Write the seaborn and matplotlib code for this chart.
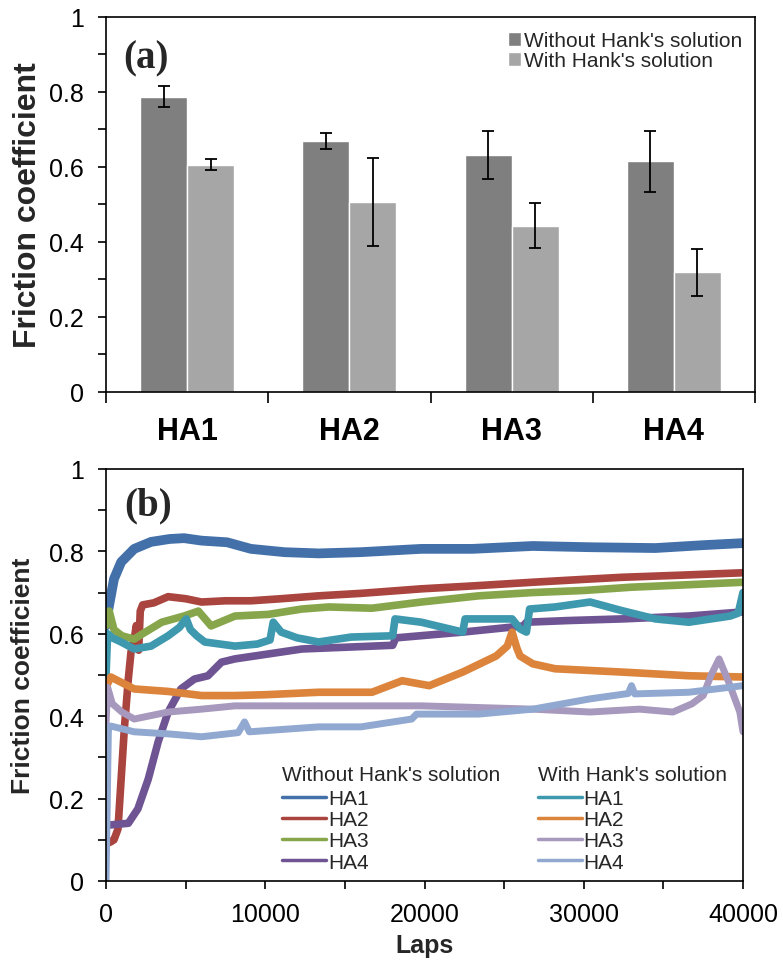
#!/usr/bin/env python3
"""Friction coefficient: (a) bar chart with error bars, (b) friction vs laps curves"""
import matplotlib; matplotlib.use("Agg")
import matplotlib.pyplot as plt; import numpy as np
import pandas as pd; import seaborn as sns
from matplotlib.ticker import MultipleLocator, FuncFormatter
from matplotlib.lines import Line2D

# ---- data (a) ----
samples = ["HA1", "HA2", "HA3", "HA4"]
conds = ["Without Hank's solution", "With Hank's solution"]
mu_without = [0.787, 0.670, 0.632, 0.615]
err_without = [0.028, 0.021, 0.065, 0.081]
mu_with = [0.606, 0.507, 0.443, 0.319]
err_with = [0.015, 0.117, 0.060, 0.062]

# ---- data (b) ----
laps_wo_ha1 = [0, 150, 500, 950, 1770, 2830, 4000, 4900, 6000, 7600, 9100, 11200, 13350, 16000,
               19800, 23000, 26800, 30400, 34500, 37500, 40000]
mu_wo_ha1 = [0.62, 0.66, 0.733, 0.774, 0.806, 0.823, 0.83, 0.832, 0.826, 0.822, 0.806, 0.798, 0.795,
             0.798, 0.806, 0.806, 0.813, 0.81, 0.808, 0.815, 0.82]
laps_wo_ha2 = [0, 300, 500, 750, 950, 1150, 1400, 1570, 1770, 1900, 2050, 2150, 2300, 3000, 3900,
               5000, 6000, 7500, 9100, 11000, 13350, 16000, 19800, 23000, 26800, 30000, 32400, 36000, 40000]
mu_wo_ha2 = [0.09, 0.095, 0.10, 0.126, 0.248, 0.369, 0.49, 0.556, 0.587, 0.62, 0.56, 0.655, 0.67,
             0.675, 0.69, 0.685, 0.677, 0.68, 0.68, 0.685, 0.692, 0.698, 0.709, 0.716, 0.725, 0.732,
             0.737, 0.742, 0.748]
laps_wo_ha3 = [0, 200, 500, 1000, 1770, 2300, 3500, 4900, 5800, 6600, 8100, 10200, 12300, 14000,
               16700, 19800, 23400, 26800, 30000, 33000, 36000, 40000]
mu_wo_ha3 = [0.62, 0.655, 0.61, 0.595, 0.587, 0.60, 0.628, 0.643, 0.655, 0.619, 0.643, 0.647, 0.66,
             0.665, 0.662, 0.677, 0.692, 0.70, 0.705, 0.713, 0.718, 0.725]
laps_wo_ha4 = [0, 1400, 2000, 2650, 3270, 3900, 4700, 5550, 6400, 7250, 8100, 10200, 12300, 15500,
               18000, 18200, 22400, 26200, 26400, 29000, 32400, 36600, 40000]
mu_wo_ha4 = [0.135, 0.14, 0.175, 0.247, 0.337, 0.41, 0.466, 0.49, 0.498, 0.531, 0.539, 0.551, 0.563,
             0.568, 0.572, 0.59, 0.604, 0.619, 0.628, 0.632, 0.636, 0.643, 0.653]
laps_w_ha1 = [0, 100, 400, 950, 1770, 2830, 3900, 4600, 5040, 5300, 5700, 6200, 8100, 9500, 10300,
              10500, 11000, 12000, 13350, 15400, 18000, 18150, 19800, 22400, 22550, 24500, 25500,
              26000, 26400, 26600, 28200, 30400, 32400, 34500, 36600, 39200, 39700, 40000]
mu_w_ha1 = [0.50, 0.60, 0.59, 0.58, 0.563, 0.57, 0.595, 0.615, 0.636, 0.61, 0.595, 0.58, 0.57, 0.575,
            0.585, 0.628, 0.604, 0.59, 0.58, 0.592, 0.595, 0.636, 0.628, 0.604, 0.636, 0.636, 0.636,
            0.612, 0.604, 0.66, 0.665, 0.677, 0.656, 0.636, 0.628, 0.643, 0.65, 0.70]
laps_w_ha2 = [0, 300, 1770, 3900, 6000, 8100, 10000, 13350, 16700, 18600, 20300, 22400, 24500,
              25200, 25500, 25800, 26000, 26800, 28200, 32400, 36600, 40000]
mu_w_ha2 = [0.47, 0.495, 0.466, 0.46, 0.45, 0.45, 0.452, 0.458, 0.458, 0.486, 0.474, 0.507, 0.546,
            0.57, 0.604, 0.565, 0.546, 0.527, 0.515, 0.507, 0.498, 0.495]
laps_w_ha3 = [0, 100, 400, 1000, 1770, 3900, 6000, 8100, 13350, 19800, 26800, 30400, 33500, 35600,
              36800, 37500, 38000, 38500, 39100, 39800, 40000]
mu_w_ha3 = [0.38, 0.47, 0.43, 0.41, 0.393, 0.41, 0.417, 0.425, 0.425, 0.425, 0.417, 0.41, 0.417,
            0.41, 0.43, 0.45, 0.50, 0.539, 0.483, 0.41, 0.362]
laps_w_ha4 = [0, 150, 300, 1770, 3900, 6000, 8300, 8700, 9000, 13350, 16000, 19200, 19500, 23400,
              26800, 30400, 32800, 33000, 33200, 36600, 40000]
mu_w_ha4 = [0.0, 0.37, 0.376, 0.362, 0.357, 0.35, 0.36, 0.386, 0.362, 0.374, 0.374, 0.393, 0.405,
            0.405, 0.417, 0.442, 0.455, 0.474, 0.454, 0.458, 0.474]

curves = [("wo", "HA1", laps_wo_ha1, mu_wo_ha1), ("wo", "HA2", laps_wo_ha2, mu_wo_ha2),
          ("wo", "HA3", laps_wo_ha3, mu_wo_ha3), ("wo", "HA4", laps_wo_ha4, mu_wo_ha4),
          ("w", "HA1", laps_w_ha1, mu_w_ha1), ("w", "HA2", laps_w_ha2, mu_w_ha2),
          ("w", "HA3", laps_w_ha3, mu_w_ha3), ("w", "HA4", laps_w_ha4, mu_w_ha4)]
line_colors = {"wo HA1": "#4370a9", "wo HA2": "#a9443f", "wo HA3": "#87a64c", "wo HA4": "#6f5494",
               "w HA1": "#3e98ae", "w HA2": "#dc843b", "w HA3": "#a798bd", "w HA4": "#91a9d0"}
line_widths = {"wo HA1": 7, "wo HA2": 5.5, "wo HA3": 5.5, "wo HA4": 5.5,
               "w HA1": 5.5, "w HA2": 5.5, "w HA3": 5, "w HA4": 5}

sns.set_style("white")
plt.rcParams["font.family"] = ["Liberation Sans", "DejaVu Sans"]
plt.rcParams["axes.linewidth"] = 1.2
plt.rcParams["axes.edgecolor"] = "black"
plt.rcParams["xtick.color"] = "black"; plt.rcParams["ytick.color"] = "black"

fig = plt.figure(figsize=(7.83, 9.62), dpi=100)
ax1 = fig.add_axes([0.1354, 0.5915, 0.8289, 0.3898])
ax2 = fig.add_axes([0.1354, 0.0832, 0.8135, 0.4283])

# ---- (a) bars ----
bars = pd.DataFrame({"sample": samples * 2, "cond": [conds[0]] * 4 + [conds[1]] * 4,
                     "mu": mu_without + mu_with, "err": err_without + err_with})
sns.barplot(data=bars, x="sample", y="mu", hue="cond", palette=["#7f7f7f", "#a6a6a6"],
            width=0.58, saturation=1, errorbar=None, ax=ax1)
for cont, errs in zip(ax1.containers, [err_without, err_with]):
    xs = [p.get_x() + p.get_width() / 2 for p in cont.patches]
    hs = [p.get_height() for p in cont.patches]
    ax1.errorbar(xs, hs, yerr=errs, fmt="none", ecolor="black", elinewidth=1.3, capsize=4, capthick=1.3)
ax1.set_xlim(-0.5, 3.5); ax1.set_ylim(0, 1)
ax1.yaxis.set_major_locator(MultipleLocator(0.2)); ax1.yaxis.set_minor_locator(MultipleLocator(0.1))
ax1.yaxis.set_major_formatter(FuncFormatter(lambda v, _: f"{v:g}"))
ax1.set_xticks(np.arange(-0.5, 4, 1), minor=True)
ax1.tick_params(axis="x", which="major", length=0, pad=17, labelsize=22)
ax1.tick_params(axis="x", which="minor", length=8, width=1.2, direction="out", bottom=True)
ax1.tick_params(axis="y", which="both", length=6, width=1.2, direction="out", left=True, labelsize=18, pad=10)
for t in ax1.get_xticklabels(): t.set_fontweight("bold")
ax1.set_xlabel("")
ax1.set_ylabel("Friction coefficient", fontsize=23, fontweight="bold")
ax1.yaxis.set_label_coords(-0.097, 0.5)
ax1.text(0.026, 0.89, "(a)", transform=ax1.transAxes, fontsize=28, fontweight="bold",
         family="Liberation Serif", ha="left", va="center")
ax1.legend(loc="upper right", bbox_to_anchor=(1.0, 0.995), frameon=False, fontsize=15,
           handlelength=0.65, handleheight=0.65, handletextpad=0.15, labelspacing=0.05, borderaxespad=0.2)

# ---- (b) curves ----
rows = []
for grp, name, xs, ys in curves:
    for x, y in zip(xs, ys):
        rows.append({"series": f"{grp} {name}", "laps": x, "mu": y})
df = pd.DataFrame(rows)
sns.lineplot(data=df, x="laps", y="mu", hue="series", hue_order=list(line_colors),
             palette=line_colors, size="series", sizes=line_widths, estimator=None, sort=False,
             legend=False, ax=ax2)
ax2.set_xlim(0, 40000); ax2.set_ylim(0, 1)
ax2.xaxis.set_major_locator(MultipleLocator(10000)); ax2.xaxis.set_minor_locator(MultipleLocator(5000))
ax2.yaxis.set_major_locator(MultipleLocator(0.2)); ax2.yaxis.set_minor_locator(MultipleLocator(0.1))
ax2.yaxis.set_major_formatter(FuncFormatter(lambda v, _: f"{v:g}"))
ax2.tick_params(axis="both", which="both", length=6, width=1.2, direction="out", left=True, bottom=True,
                labelsize=18)
ax2.tick_params(axis="y", which="major", pad=10)
ax2.tick_params(axis="x", which="major", pad=9)
ax2.set_xlabel("Laps", fontsize=18, fontweight="bold", labelpad=5)
ax2.set_ylabel("Friction coefficient", fontsize=19, fontweight="bold")
ax2.yaxis.set_label_coords(-0.111, 0.5)
ax2.text(0.028, 0.913, "(b)", transform=ax2.transAxes, fontsize=28, fontweight="bold",
         family="Liberation Serif", ha="left", va="center")

kw = dict(frameon=False, fontsize=15, title_fontsize=15, handlelength=2.1, handletextpad=0.1,
          labelspacing=0.1, borderpad=0, borderaxespad=0, alignment="left", loc="upper left")
h_wo = [Line2D([], [], color=line_colors[f"wo {s}"], lw=2.5) for s in samples]
h_w = [Line2D([], [], color=line_colors[f"w {s}"], lw=2.5) for s in samples]
leg1 = ax2.legend(h_wo, samples, title=conds[0], bbox_to_anchor=(0.277, 0.282), **kw)
ax2.add_artist(leg1)
leg2 = ax2.legend(h_w, samples, title=conds[1], bbox_to_anchor=(0.678, 0.282), **kw)
for lg in (leg1, leg2):
    lg._legend_box.sep = 4

fig.savefig("out.png", dpi=100)
print("-> out.png")
